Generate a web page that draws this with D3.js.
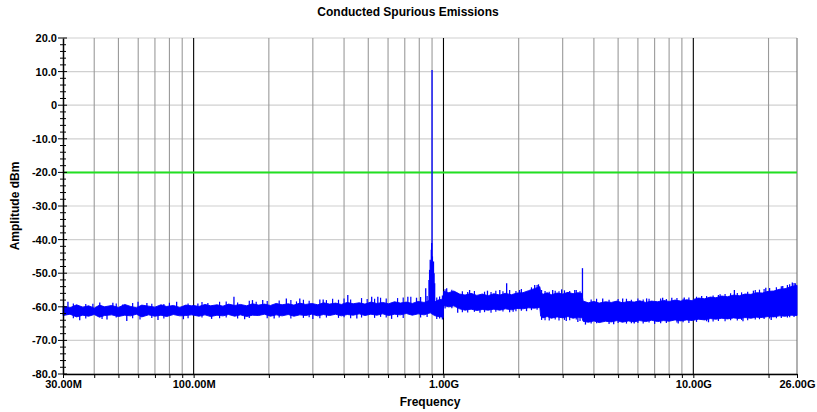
<!DOCTYPE html>
<html><head><meta charset="utf-8">
<script src="https://cdn.jsdelivr.net/npm/d3@7/dist/d3.min.js"></script>
<style>
body{margin:0;background:#fff}
svg{display:block}
text{font-family:"Liberation Sans",Arial,sans-serif;font-weight:bold;fill:#000}
</style>
</head><body>
<svg id="chart" width="817" height="412"></svg>
<script>
// ---- data ----
const bandMHz = [
  30,32,34,36,38,40,42,44,47,50,53,56,59,62,66,70,74,78,83,88,93,98,
  100,105,111,117,124,131,138,146,154,163,172,182,192,203,214,226,239,252,266,281,297,314,331,350,370,390,412,435,460,485,512,541,571,603,637,672,710,750,792,836,870,885,
  920,950,980,998,
  1001,1050,1100,1160,1220,1290,1360,1430,1510,1590,1680,1770,1870,1970,2080,2190,2310,2430,
  2450,2500,2600,2700,2850,3000,3150,3300,3450,3580,
  3620,3800,4000,4200,4450,4700,4950,5200,5500,5800,6100,6450,6800,7200,7600,8000,8450,8900,9400,9900,
  10000,10500,11100,11700,12300,13000,13700,14500,15300,16100,17000,17900,18900,19900,21000,22100,23300,24600,26000
];
const bandHigh = [
  -59.8,-60.3,-59.4,-60.1,-59.7,-60.4,-59.5,-60.0,-59.6,-60.2,-59.3,-59.9,-60.3,-59.5,-59.8,-60.1,-59.4,-59.9,-59.6,-60.2,-59.5,-59.7,
  -59.6,-59.9,-59.3,-59.7,-59.4,-59.8,-59.2,-59.6,-59.3,-59.7,-59.1,-59.5,-59.2,-59.6,-59.0,-59.4,-59.1,-59.5,-58.9,-59.3,-59.0,-59.4,-58.8,-59.2,-58.9,-59.3,-58.7,-59.1,-58.8,-59.2,-58.6,-59.0,-58.7,-59.1,-58.5,-58.9,-58.6,-59.0,-58.4,-58.7,-58.3,-57.5,
  -58.6,-58.0,-57.8,-57.5,
  -55.4,-55.8,-55.3,-56.2,-56.5,-56.0,-56.6,-56.2,-56.7,-56.1,-56.5,-56.0,-56.4,-55.9,-55.8,-55.2,-54.6,-54.0,
  -55.6,-56.3,-55.8,-56.4,-55.9,-56.2,-55.7,-56.1,-55.8,-56.0,
  -58.3,-58.8,-58.4,-58.9,-58.5,-58.7,-58.3,-58.8,-58.4,-58.6,-58.2,-58.7,-58.3,-58.5,-58.1,-58.4,-58.0,-58.3,-57.9,-58.2,
  -57.8,-57.4,-57.6,-57.1,-57.3,-56.8,-57.0,-56.5,-56.7,-56.2,-56.3,-55.8,-55.9,-55.4,-55.3,-54.8,-54.6,-54.0,-53.6
];
const bandLow = [
  -62.6,-62.2,-63.0,-62.5,-62.8,-62.3,-63.1,-62.6,-62.4,-62.9,-62.5,-62.7,-62.2,-63.0,-62.4,-62.8,-62.5,-62.9,-62.3,-62.7,-62.6,-62.4,
  -62.5,-62.8,-62.4,-62.9,-62.5,-62.7,-62.3,-62.8,-62.4,-62.9,-62.5,-62.6,-62.2,-62.8,-62.4,-62.7,-62.3,-62.8,-62.4,-62.6,-62.2,-62.7,-62.3,-62.6,-62.2,-62.7,-62.3,-62.5,-62.1,-62.6,-62.2,-62.5,-62.1,-62.6,-62.2,-62.4,-62.0,-62.5,-62.1,-62.4,-62.0,-61.8,
  -62.6,-62.9,-63.0,-63.2,
  -59.6,-60.0,-59.7,-60.6,-61.0,-60.7,-61.1,-60.8,-61.0,-60.7,-61.0,-60.6,-60.9,-60.5,-60.6,-60.3,-60.4,-60.2,
  -62.8,-63.3,-62.9,-63.4,-63.0,-63.3,-62.9,-63.4,-63.1,-63.2,
  -64.3,-64.6,-64.2,-64.7,-64.3,-64.5,-64.1,-64.6,-64.2,-64.5,-64.1,-64.4,-64.0,-64.4,-64.1,-64.3,-63.9,-64.2,-63.9,-64.1,
  -64.0,-63.7,-63.9,-63.5,-63.7,-63.4,-63.6,-63.3,-63.5,-63.2,-63.4,-63.1,-63.2,-62.9,-63.0,-62.7,-62.8,-62.5,-62.6
];
// larger spikes / dips of the trace (vertical excursions: top and bottom level)
const spikeMHz = [
  31.4,35,42.1,45,47.5,54,59.9,65,72,85.5,91,
  104,118,145,160,172,189,210,235,266,300,330,414,450,516,546,620,720,780,849,
  875,880,885,890,894,897,900,903,907,912,917,922,
  1030,1140,1272,1400,1500,1680,1790,1900,2016,2150,2318,2400,
  2736,2971,3100,3353,3450,3600,
  3700,4338,4800,5215,5800,6502,7000,7536,8200,8700,9200,
  10800,11500,12800,14600,15800,17400,19500,20500,22800,24900,25600
];
const spikeHigh = [
  -58.5,-60.5,-58.7,-61,-58.8,-61,-58.5,-58.9,-61,-58.5,-61,
  -59,-61,-57,-61,-58,-58,-61,-57.5,-57.5,-61,-57.8,-56.5,-61,-57,-57,-61,-57,-57.3,-54.5,
  -52,-49,-46,-46.5,-43,-41,10.5,-45,-47,-46.5,-50,-53,
  -54.5,-58,-55,-58,-55.2,-55,-53,-58,-55,-58,-53.5,-53.3,
  -55,-54.8,-59,-55,-59,-48.5,
  -61,-57.5,-61,-57.5,-61,-57.5,-61,-57.3,-57.3,-61,-57.2,
  -56.8,-61,-56.3,-55,-60,-55.2,-54.3,-60,-53.8,-52.8,-53
];
const spikeLow = [
  -61,-64.0,-61,-63.8,-61,-64.2,-61,-61,-63.9,-61,-63.7,
  -61,-63.6,-61,-63.7,-61,-61,-63.5,-61,-61,-63.6,-61,-61,-63.5,-61,-61,-63.6,-61,-61,-61,
  -61,-61,-61,-61,-61,-60,-58,-60,-61,-61,-61,-61,
  -58,-61.8,-58,-61.8,-58,-58,-58,-61.5,-58,-61.3,-58,-58,
  -59,-59,-64.2,-59,-64.5,-60,
  -65.3,-61,-65.2,-61,-65.0,-61,-65.1,-61,-61,-65.0,-61,
  -61,-64.6,-61,-60,-64.3,-60,-60,-63.9,-60,-60,-60
];
// fine noise hairs of the trace (top and bottom level)
const hairMHz = [
  33,37,39.5,43,49,52,57,61,68,76,80,95,
  108,114,127,135,150,167,178,197,220,245,258,275,290,320,340,360,380,400,425,470,495,530,560,590,655,690,740,810,860,940,965,990,
  1015,1080,1190,1250,1330,1460,1550,1620,1730,1840,1950,2050,2250,2370,
  2470,2550,2650,2800,2900,3050,3200,3400,3520,
  3900,4100,4600,5000,5400,5650,6000,6300,6650,7400,7800,8600,9100,9600,
  10300,11300,12000,12600,13400,14100,15000,15600,16500,17700,18400,19200,20200,21500,22500,23800,24300,25300
];
const hairHigh = [
  -59.0,-59.2,-59.1,-61,-59.0,-59.3,-58.9,-61,-59.1,-59.2,-58.8,-59.0,
  -58.6,-58.9,-58.5,-58.4,-58.7,-58.2,-58.5,-58.3,-58.1,-58.0,-58.4,-57.9,-58.2,-57.8,-58.0,-57.6,-57.9,-57.5,-57.8,-57.4,-57.7,-57.6,-57.3,-57.5,-57.4,-57.2,-57.0,-57.1,-56.8,-57.2,-56.9,-56.6,
  -54.8,-54.9,-55.4,-55.6,-55.3,-55.5,-55.6,-55.2,-55.4,-55.0,-55.3,-54.7,-54.2,-53.5,
  -55.0,-55.3,-55.5,-55.2,-55.4,-55.1,-55.3,-55.0,-55.4,
  -57.8,-57.6,-57.9,-57.7,-57.6,-57.9,-57.5,-57.8,-57.6,-57.5,-57.7,-57.4,-57.6,-57.2,
  -57.0,-56.8,-56.6,-56.5,-56.2,-56.0,-55.9,-55.7,-55.5,-55.0,-54.9,-54.7,-54.4,-54.2,-53.9,-53.5,-53.3,-52.9
];
const hairLow = [
  -63.4,-63.5,-61,-63.6,-63.2,-61,-63.4,-63.8,-63.3,-63.5,-61,-63.4,
  -63.2,-61,-63.4,-63.2,-63.5,-63.3,-61,-63.4,-63.2,-63.5,-61,-63.3,-63.1,-63.4,-63.2,-61,-63.3,-63.1,-63.4,-63.2,-61,-63.3,-63.0,-63.2,-63.1,-63.3,-61,-63.2,-63.0,-63.6,-63.5,-63.8,
  -60.5,-60.4,-61.6,-61.7,-61.5,-61.6,-61.8,-61.5,-61.4,-61.6,-61.3,-61.2,-61.0,-60.9,
  -63.9,-64.0,-64.1,-63.8,-64.1,-63.9,-64.0,-63.8,-64.2,
  -65.0,-64.9,-65.1,-64.8,-65.0,-64.9,-64.8,-65.0,-64.7,-64.9,-64.8,-64.7,-64.6,-64.8,
  -64.5,-64.3,-64.4,-64.2,-64.3,-64.0,-64.1,-63.9,-64.0,-63.8,-63.7,-63.6,-63.5,-63.4,-63.3,-63.2,-63.1,-63.0
];
const limitDbm = -20;
const yTicks = [20,10,0,-10,-20,-30,-40,-50,-60,-70,-80];
const yTickLabels = ["20.0","10.0","0","-10.0","-20.0","-30.0","-40.0","-50.0","-60.0","-70.0","-80.0"];
const xLabelMHz = [30,100,1000,10000,26000];
const xLabelText = ["30.00M","100.00M","1.00G","10.00G","26.00G"];
const xGridMHz = [40,50,60,70,80,90,200,300,400,500,600,700,800,900,2000,3000,4000,5000,6000,7000,8000,9000,20000];
const xDecadeMHz = [100,1000,10000];

// ---- chart ----
const svg = d3.select("#chart");
const x = d3.scaleLog().domain([30,26000]).range([63,797]);
const y = d3.scaleLinear().domain([-80,20]).range([374,38]);

// horizontal grid
svg.append("g").selectAll("line").data(yTicks).join("line")
  .attr("x1",x(30)).attr("x2",x(26000))
  .attr("y1",d=>y(d)).attr("y2",d=>y(d))
  .attr("stroke","#d0d0d0").attr("stroke-width",1.2);
// vertical grid
svg.append("g").selectAll("line").data(xGridMHz).join("line")
  .attr("x1",d=>x(d)).attr("x2",d=>x(d))
  .attr("y1",y(20)).attr("y2",y(-80))
  .attr("stroke","#9a9a9a").attr("stroke-width",1.1);
svg.append("g").selectAll("line").data(xDecadeMHz).join("line")
  .attr("x1",d=>x(d)).attr("x2",d=>x(d))
  .attr("y1",y(20)).attr("y2",y(-80))
  .attr("stroke","#000").attr("stroke-width",1.1);
svg.append("line").attr("x1",x(26000)).attr("x2",x(26000))
  .attr("y1",y(20)).attr("y2",y(-80)).attr("stroke","#707070").attr("stroke-width",1.1);

// limit line
svg.append("line").attr("x1",x(30)).attr("x2",x(26000))
  .attr("y1",y(limitDbm)).attr("y2",y(limitDbm))
  .attr("stroke","#22e022").attr("stroke-width",2);

// trace band
const band = bandMHz.map((f,i)=>({f, hi:bandHigh[i], lo:bandLow[i]}));
svg.append("path").datum(band)
  .attr("d", d3.area().x(d=>x(d.f)).y0(d=>y(d.lo)).y1(d=>y(d.hi)))
  .attr("fill","#0000ff").attr("stroke","#0000ff").attr("stroke-width",0.9);
// hairs
svg.append("g").selectAll("line").data(hairMHz.map((f,i)=>({f,hi:hairHigh[i],lo:hairLow[i]}))).join("line")
  .attr("x1",d=>x(d.f)).attr("x2",d=>x(d.f))
  .attr("y1",d=>y(d.hi)).attr("y2",d=>y(d.lo))
  .attr("stroke","#0000ff").attr("stroke-width",1.2);
// spikes
svg.append("g").selectAll("line").data(spikeMHz.map((f,i)=>({f,hi:spikeHigh[i],lo:spikeLow[i]}))).join("line")
  .attr("x1",d=>x(d.f)).attr("x2",d=>x(d.f))
  .attr("y1",d=>y(d.hi)).attr("y2",d=>y(d.lo))
  .attr("stroke","#0000ff").attr("stroke-width",1.3);

// x axis
const labelMap = new Map(xLabelMHz.map((v,i)=>[v,xLabelText[i]]));
const xAxis = d3.axisBottom(x).tickValues(xGridMHz.concat(xDecadeMHz, [30,26000]))
  .tickSize(4).tickSizeOuter(0).tickPadding(2)
  .tickFormat(d=>labelMap.get(d) || "");
const gx = svg.append("g").attr("transform",`translate(0,${y(-80)})`).call(xAxis);
gx.select(".domain").attr("stroke","#000").attr("stroke-width",1.5);
gx.selectAll(".tick line").attr("stroke","#000").attr("stroke-width",1);
gx.selectAll(".tick text").attr("font-size",11).attr("font-family","Liberation Sans, Arial, sans-serif").attr("font-weight","bold");

// y axis
const yLabelMap = new Map(yTicks.map((v,i)=>[v,yTickLabels[i]]));
const yAxis = d3.axisLeft(y).tickValues(yTicks).tickSize(0).tickPadding(6)
  .tickFormat(d=>yLabelMap.get(d));
const gy = svg.append("g").attr("transform",`translate(${x(30)},0)`).call(yAxis);
gy.select(".domain").attr("stroke","#000").attr("stroke-width",1.5);
gy.selectAll(".tick text").attr("font-size",11).attr("font-family","Liberation Sans, Arial, sans-serif").attr("font-weight","bold");
const minorY = y.ticks(50);
gy.append("g").selectAll("line").data(minorY).join("line")
  .attr("x1",d=> yTicks.includes(d) ? -5 : -3).attr("x2",d=> yTicks.includes(d) ? 4 : 3)
  .attr("y1",d=>y(d)).attr("y2",d=>y(d))
  .attr("stroke","#000").attr("stroke-width",1);

// titles
svg.append("text").attr("x",408).attr("y",16).attr("text-anchor","middle")
  .attr("font-size",12).text("Conducted Spurious Emissions");
svg.append("text").attr("x",(x(30)+x(26000))/2).attr("y",406).attr("text-anchor","middle")
  .attr("font-size",12).text("Frequency");
svg.append("text").attr("transform",`translate(19,${(y(20)+y(-80))/2}) rotate(-90)`)
  .attr("text-anchor","middle").attr("font-size",12).text("Amplitude dBm");
</script>
</body></html>
